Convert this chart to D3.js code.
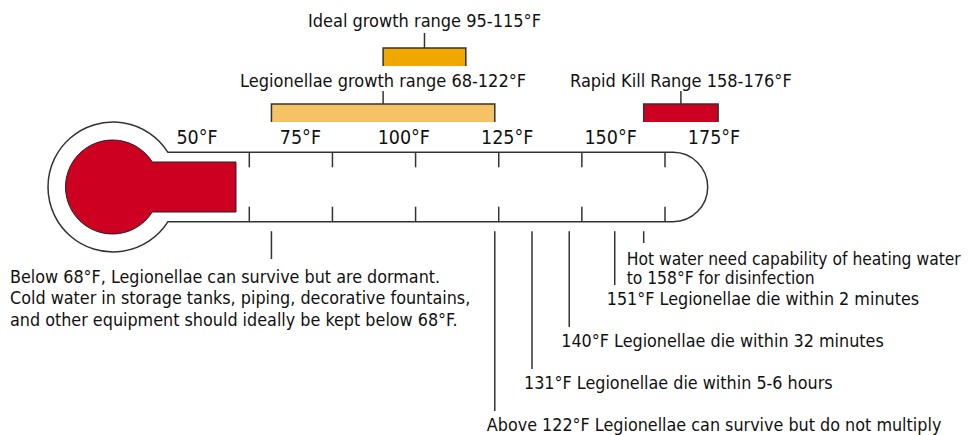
<!DOCTYPE html>
<html>
<head>
<meta charset="utf-8">
<script src="https://cdn.jsdelivr.net/npm/d3@7"></script>
<style>
  html, body { margin: 0; padding: 0; background: #fff; }
  svg { display: block; }
  text { font-family: "DejaVu Sans Condensed", "DejaVu Sans", sans-serif; font-stretch: condensed; fill: #111; }
</style>
</head>
<body>
<svg id="chart" width="972" height="435"></svg>
<script>
// ---- data ----
const tickValues = [50, 75, 100, 125, 150, 175];
const tickLabels = ["50°F", "75°F", "100°F", "125°F", "150°F", "175°F"];
const mercuryLevel = 46;

const rangeNames = ["Ideal growth range 95-115°F", "Legionellae growth range 68-122°F", "Rapid Kill Range 158-176°F"];
const rangeLow = [95, 68, 158];
const rangeHigh = [115, 122, 176];
const rangeColors = ["#F0A800", "#F5C266", "#CE0022"];

const noteTemps = [68, 158, 151, 140, 131, 122];
const noteTexts = [
  ["Below 68°F, Legionellae can survive but are dormant.",
   "Cold water in storage tanks, piping, decorative fountains,",
   "and other equipment should ideally be kept below 68°F."],
  ["Hot water need capability of heating water",
   "to 158°F for disinfection"],
  ["151°F Legionellae die within 2 minutes"],
  ["140°F Legionellae die within 32 minutes"],
  ["131°F Legionellae die within 5-6 hours"],
  ["Above 122°F Legionellae can survive but do not multiply"]
];

// ---- layout ----
const svg = d3.select("#chart");
// scale for labels, ranges and annotations
const x = d3.scaleLinear().domain([50, 175]).range([197, 714]);
// scale of the graduations drawn inside the thermometer tube
const tubeX = d3.scaleLinear().domain([50, 175]).range([249.3, 665]);
const stroke = "#333";
const tubeCY = 187, tubeHalf = 34.7;
const tubeTop = tubeCY - tubeHalf, tubeBot = tubeCY + tubeHalf;
const bulbCX = 113, bulbR = 65;
const tubeEnd = 673;
const joinX = bulbCX + Math.sqrt(bulbR * bulbR - tubeHalf * tubeHalf);

// thermometer outline
const outline = d3.path();
outline.moveTo(joinX, tubeTop);
outline.lineTo(tubeEnd, tubeTop);
outline.arc(tubeEnd, tubeCY, tubeHalf, -Math.PI / 2, Math.PI / 2, false);
outline.lineTo(joinX, tubeBot);
const a0 = Math.asin(tubeHalf / bulbR);
outline.arc(bulbCX, tubeCY, bulbR, a0, 2 * Math.PI - a0, false);
outline.closePath();
svg.append("path").attr("d", outline.toString())
  .attr("fill", "#fff").attr("stroke", stroke).attr("stroke-width", 1.5);

// mercury
const mR = 47, mHalf = 25, mCX = 112.5;
const mJoin = mCX + Math.sqrt(mR * mR - mHalf * mHalf);
const merc = d3.path();
merc.moveTo(mJoin, tubeCY - mHalf);
merc.lineTo(tubeX(mercuryLevel), tubeCY - mHalf);
merc.lineTo(tubeX(mercuryLevel), tubeCY + mHalf);
merc.lineTo(mJoin, tubeCY + mHalf);
const b0 = Math.asin(mHalf / mR);
merc.arc(mCX, tubeCY, mR, b0, 2 * Math.PI - b0, false);
merc.closePath();
svg.append("path").attr("d", merc.toString())
  .attr("fill", "#CE0022").attr("stroke", "#222").attr("stroke-width", 1);

// graduations in tube
const grad = svg.append("g").attr("stroke", stroke).attr("stroke-width", 1.5);
grad.selectAll("line.top").data(tickValues).join("line").attr("class", "top")
  .attr("x1", d => tubeX(d)).attr("x2", d => tubeX(d))
  .attr("y1", tubeTop).attr("y2", tubeTop + 15);
grad.selectAll("line.bot").data(tickValues).join("line").attr("class", "bot")
  .attr("x1", d => tubeX(d)).attr("x2", d => tubeX(d))
  .attr("y1", tubeBot - 15).attr("y2", tubeBot);

// axis labels
svg.append("g").selectAll("text").data(tickValues).join("text")
  .attr("x", d => x(d)).attr("y", 144)
  .attr("text-anchor", "middle").attr("font-size", 19.5)
  .text((d, i) => tickLabels[i]);

// range bars
const rowBarY = [48, 104, 104];
const rowLabelY = [27, 86.5, 86.5];
const rowConnTop = [33, 91, 91];
const barH = 18;
rangeNames.forEach((name, i) => {
  const x0 = x(rangeLow[i]), x1 = x(rangeHigh[i]);
  const cx = (x0 + x1) / 2;
  const g = svg.append("g");
  g.append("rect").attr("x", x0).attr("y", rowBarY[i])
    .attr("width", x1 - x0).attr("height", barH).attr("fill", rangeColors[i]);
  g.append("path")
    .attr("d", `M${x0},${rowBarY[i] + barH}V${rowBarY[i]}H${x1}V${rowBarY[i] + barH}`)
    .attr("fill", "none").attr("stroke", stroke).attr("stroke-width", 1.5);
  g.append("line").attr("x1", cx).attr("x2", cx)
    .attr("y1", rowConnTop[i]).attr("y2", rowBarY[i])
    .attr("stroke", stroke).attr("stroke-width", 1.5);
  g.append("text").attr("x", cx).attr("y", rowLabelY[i])
    .attr("text-anchor", "middle").attr("font-size", 18).text(name);
});

// annotations
const lineTop = tubeBot + 9.5;
const notes = svg.append("g");
noteTemps.forEach((t, i) => {
  const lx = x(t);
  let lineEnd, tx, ty, lh = 19, fs = 17.8;
  if (i === 0) { lineEnd = 259; tx = 10; ty = 282.5; lh = 21.5; }
  else if (i === 1) { lineEnd = 243; tx = lx - 17; ty = 265; lh = 18.5; fs = 17.3; }
  else { const k = i - 2; ty = 305 + 42 * k; lineEnd = ty - 20; tx = lx - 8; }
  notes.append("line").attr("x1", lx).attr("x2", lx)
    .attr("y1", lineTop).attr("y2", lineEnd)
    .attr("stroke", stroke).attr("stroke-width", 1.5);
  noteTexts[i].forEach((s, j) => {
    notes.append("text").attr("x", tx).attr("y", ty + j * lh)
      .attr("font-size", fs).text(s);
  });
});
</script>
</body>
</html>
